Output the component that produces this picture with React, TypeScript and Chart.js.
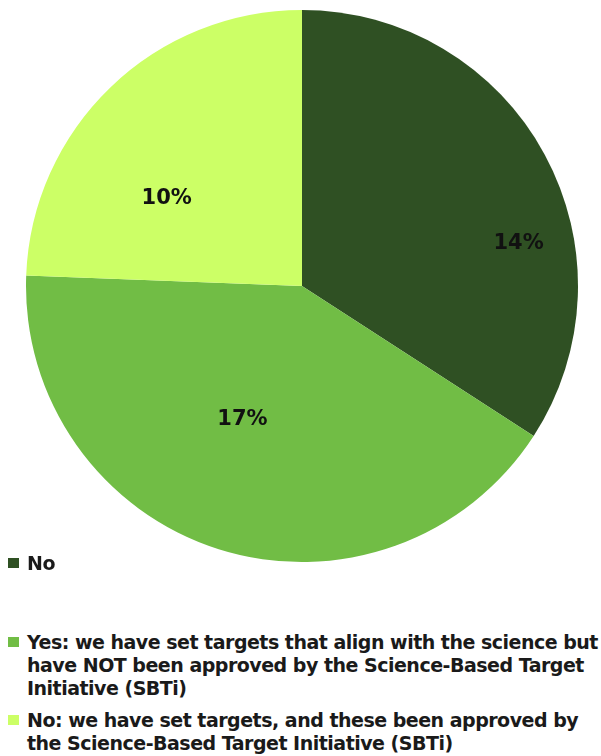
import React, { useEffect, useRef } from "react";
import { Chart, registerables } from "chart.js";

Chart.register(...registerables);

const categories: string[][] = [
  ["No"],
  [
    "Yes: we have set targets that align with the science but",
    "have NOT been approved by the Science-Based Target",
    "Initiative (SBTi)",
  ],
  [
    "No: we have set targets, and these been approved by",
    "the Science-Based Target Initiative (SBTi)",
  ],
];
const values: number[] = [14, 17, 10];
const colors: string[] = ["#2f5023", "#71bd45", "#ccff66"];
// label placement hints (fraction of radius, angular shift in degrees)
const labelRadius: number[] = [0.8, 0.525, 0.585];
const labelShift: number[] = [17.3, 6.7, -13];

const FONT = "'DejaVu Sans', Verdana, sans-serif";

const labelPlugin = {
  id: "sliceLabels",
  afterDatasetsDraw(chart: any) {
    const meta = chart.getDatasetMeta(0);
    const ctx = chart.ctx;
    ctx.save();
    ctx.font = `bold 21px ${FONT}`;
    ctx.fillStyle = "#111111";
    ctx.textAlign = "center";
    ctx.textBaseline = "middle";
    meta.data.forEach((arc: any, i: number) => {
      const p = arc.getProps(["x", "y", "startAngle", "endAngle", "outerRadius"], true);
      const mid = (p.startAngle + p.endAngle) / 2 + (labelShift[i] * Math.PI) / 180;
      const r = p.outerRadius * labelRadius[i];
      ctx.fillText(values[i] + "%", p.x + Math.cos(mid) * r, p.y + Math.sin(mid) * r + 1);
    });
    ctx.restore();
  },
};

export default function App() {
  const ref = useRef<HTMLCanvasElement | null>(null);
  useEffect(() => {
    document.body.style.margin = "0";
    if (!ref.current) return;
    const chart = new Chart(ref.current, {
      type: "pie",
      data: {
        labels: categories.map((c) => c.join(" ")),
        datasets: [
          {
            data: values,
            backgroundColor: colors,
            borderWidth: 0,
          },
        ],
      },
      options: {
        animation: false,
        responsive: true,
        maintainAspectRatio: false,
        layout: { padding: { top: 2, left: 3, right: 0, bottom: 0 } },
        plugins: {
          legend: { display: false },
          tooltip: { enabled: false },
        },
      },
      plugins: [labelPlugin],
    });
    return () => chart.destroy();
  }, []);

  const itemTops = [552, 631, 709];
  return (
    <div style={{ position: "relative", width: 601, height: 756, overflow: "hidden" }}>
      <div style={{ position: "absolute", left: 8, top: 8, width: 585, height: 554 }}>
        <canvas ref={ref} />
      </div>
      {categories.map((lines, i) => (
        <div
          key={i}
          style={{
            position: "absolute",
            left: 8,
            top: itemTops[i],
            fontFamily: FONT,
            fontWeight: "bold",
            fontSize: 19,
            lineHeight: "23px",
            letterSpacing: "-0.5px",
            color: "#1a1a1a",
            whiteSpace: "nowrap",
          }}
        >
          <span
            style={{
              position: "absolute",
              left: 0,
              top: 6,
              width: 11,
              height: 10,
              background: colors[i],
            }}
          />
          <div style={{ marginLeft: 19 }}>
            {lines.map((l, j) => (
              <div key={j}>{l}</div>
            ))}
          </div>
        </div>
      ))}
    </div>
  );
}
